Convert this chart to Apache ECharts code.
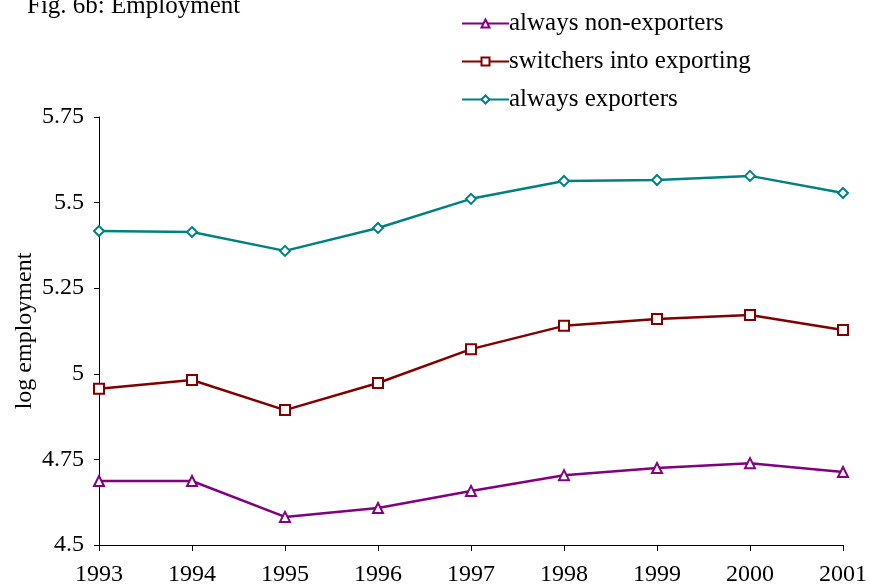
<!DOCTYPE html>
<html><head><meta charset="utf-8">
<script src="https://cdn.jsdelivr.net/npm/echarts@6/dist/echarts.min.js"></script>
<style>html,body{margin:0;padding:0;background:#fff}#c{width:869px;height:585px}</style>
</head><body><div id="c"></div>
<script>
const years = ['1993','1994','1995','1996','1997','1998','1999','2000','2001'];
const alwaysNonExporters = [4.687, 4.687, 4.582, 4.608, 4.658, 4.704, 4.725, 4.739, 4.713];
const switchersIntoExporting = [4.956, 4.982, 4.894, 4.973, 5.072, 5.140, 5.160, 5.172, 5.128];
const alwaysExporters = [5.417, 5.414, 5.359, 5.426, 5.511, 5.563, 5.566, 5.578, 5.528];
const seriesNames = ['always non-exporters', 'switchers into exporting', 'always exporters'];

const FONT = 'Liberation Serif';
const chart = echarts.init(document.getElementById('c'));
function mk(name, data, color, symbol) {
  return {
    name, type: 'line', data, symbol, symbolSize: 10,
    lineStyle: { color, width: 2.5 },
    itemStyle: { color: '#fff', borderColor: color, borderWidth: 2 },
    emphasis: { disabled: true }
  };
}
chart.setOption({
  animation: false,
  textStyle: { fontFamily: FONT, color: '#000' },
  title: { text: 'Fig. 6b: Employment', left: 22, top: -11,
    textStyle: { fontFamily: FONT, fontWeight: 'normal', fontSize: 25, color: '#000' } },
  legend: {
    orient: 'vertical', left: 456, top: 6, itemWidth: 47, itemHeight: 10, itemGap: 13,
    textStyle: { fontFamily: FONT, fontSize: 25, color: '#000', padding: [0,0,0,-5] },
    data: seriesNames
  },
  grid: { left: 99, right: 26, top: 117, bottom: 40, containLabel: false, outerBoundsMode: 'none' },
  xAxis: {
    type: 'category', data: years, boundaryGap: false,
    axisLine: { lineStyle: { color: '#000', width: 1 } },
    axisTick: { show: true, length: 6, lineStyle: { color: '#000' } },
    axisLabel: { fontFamily: FONT, fontSize: 24, color: '#000', margin: 18 },
    splitLine: { show: false }
  },
  yAxis: {
    type: 'value', min: 4.5, max: 5.75, interval: 0.25,
    name: 'log employment', nameLocation: 'middle', nameGap: 62, nameMoveOverlap: false,
    nameTextStyle: { fontFamily: FONT, fontSize: 24, color: '#000' },
    axisLine: { show: true, lineStyle: { color: '#000', width: 1 } },
    axisTick: { show: true, length: 5, lineStyle: { color: '#000' } },
    axisLabel: { fontFamily: FONT, fontSize: 24, color: '#000', margin: 15 },
    splitLine: { show: false }
  },
  series: [
    mk(seriesNames[0], alwaysNonExporters, '#800080', 'triangle'),
    mk(seriesNames[1], switchersIntoExporting, '#800000', 'rect'),
    mk(seriesNames[2], alwaysExporters, '#008080', 'diamond')
  ]
});
</script></body></html>
